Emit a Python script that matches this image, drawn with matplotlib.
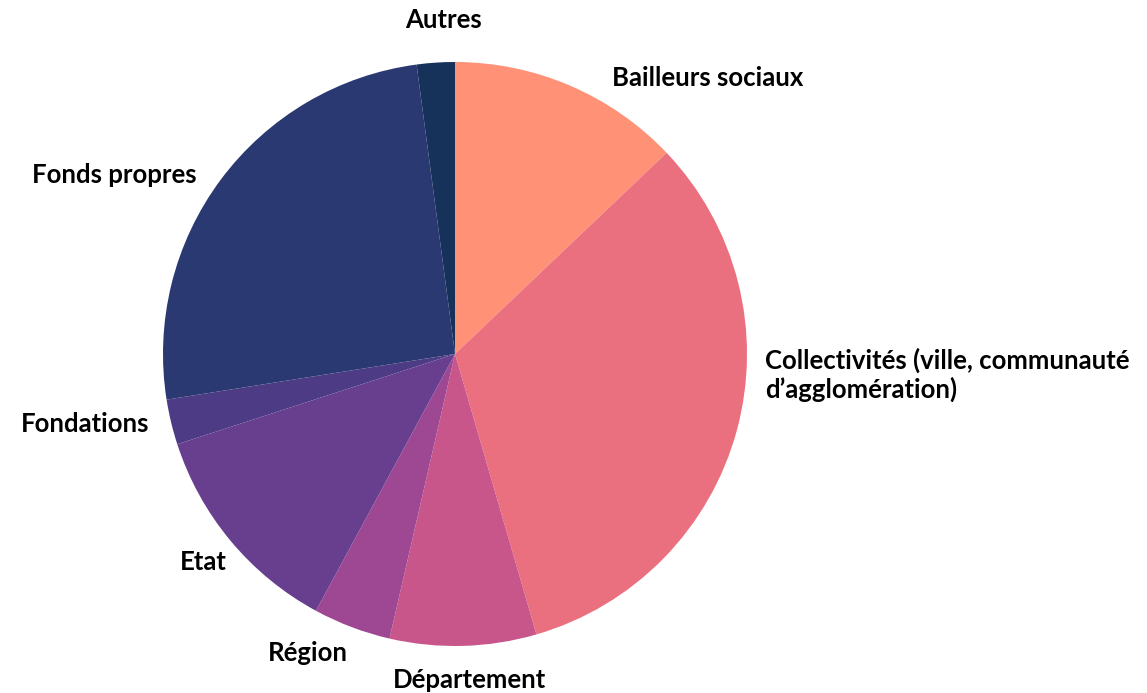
import matplotlib
matplotlib.use("Agg")
import matplotlib.pyplot as plt

labels = ["Bailleurs sociaux", "Collectivités (ville, communauté\nd’agglomération)",
          "Département", "Région", "Etat", "Fondations", "Fonds propres", "Autres"]
shares = [12.9, 32.6, 8.1, 4.3, 12.1, 2.5, 25.4, 2.1]
colors = ["#FF9176", "#EB707F", "#C8568A", "#9E4793", "#683E8F", "#4D3C85", "#2B3972", "#16315A"]

# label placement (in units of the pie radius), alignment
label_pos = [(0.538, 0.945, "left"), (1.062, -0.072, "left"), (0.051, -1.116, "center"),
             (-0.366, -1.024, "right"), (-0.781, -0.712, "right"), (-1.045, -0.240, "right"),
             (-0.884, 0.613, "right"), (-0.041, 1.144, "center")]

W, H = 1147, 693
cx, cy, r = 455, 354, 292
fig = plt.figure(figsize=(W / 100, H / 100), dpi=100)
half = 300
ax = fig.add_axes([(cx - half) / W, (H - cy - half) / H, 2 * half / W, 2 * half / H])
wedges, texts = ax.pie(shares, labels=labels, colors=colors, startangle=90, counterclock=False,
                       radius=1.0, wedgeprops=dict(linewidth=0),
                       textprops=dict(fontfamily="Lato", fontweight="bold", fontsize=18.5, color="black"))
for t, (x, y, ha) in zip(texts, label_pos):
    t.set_position((x, y))
    t.set_ha(ha)
    t.set_va("center")
    t.set_linespacing(1.15)
ax.set_xlim(-half / r, half / r)
ax.set_ylim(-half / r, half / r)
ax.set_aspect("equal")
ax.axis("off")
fig.savefig("out.png", dpi=100)
